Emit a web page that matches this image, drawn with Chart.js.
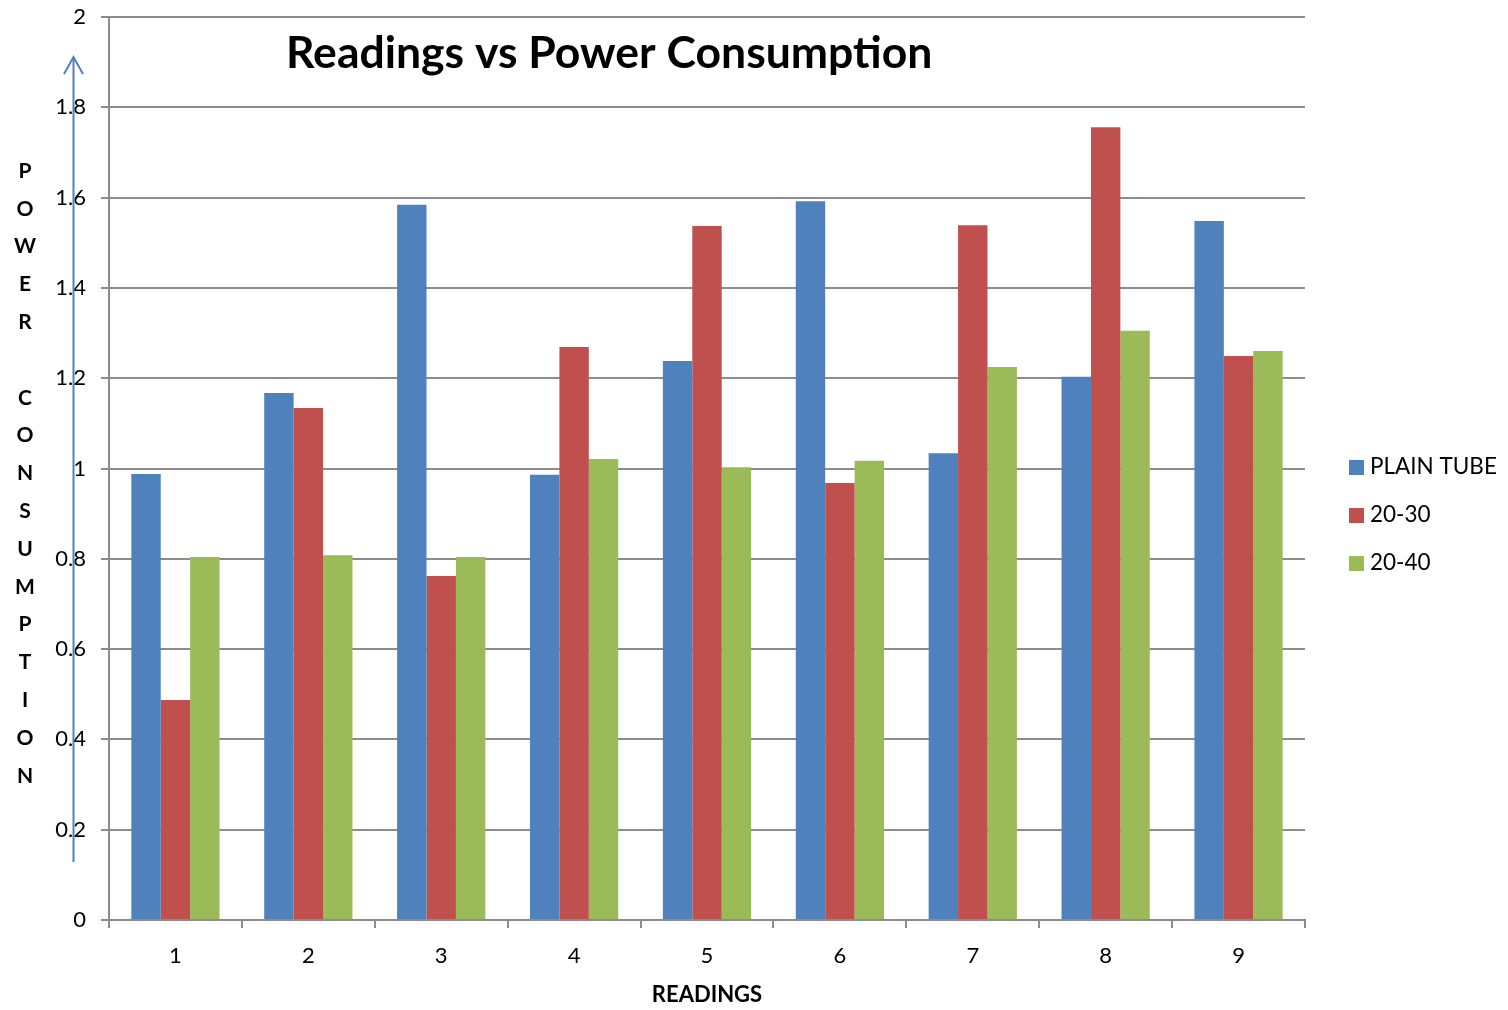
<!DOCTYPE html>
<html>
<head>
<meta charset="utf-8">
<title>Readings vs Power Consumption</title>
<script src="https://cdn.jsdelivr.net/npm/chart.js@4/dist/chart.umd.min.js"></script>
<style>
  html, body { margin: 0; padding: 0; background: #ffffff; }
  #wrap { width: 1508px; height: 1010px; position: relative; }
</style>
</head>
<body>
<div id="wrap"><canvas id="chart" width="1508" height="1010"></canvas></div>
<script>
// Readings 1..9 and the power drawn by each tube configuration
const categories = ['1', '2', '3', '4', '5', '6', '7', '8', '9'];
const plainTube = [0.988, 1.167, 1.584, 0.986, 1.238, 1.592, 1.034, 1.203, 1.548];
const tube2030  = [0.487, 1.134, 0.762, 1.269, 1.537, 0.968, 1.539, 1.756, 1.249];
const tube2040  = [0.804, 0.808, 0.804, 1.021, 1.003, 1.017, 1.225, 1.305, 1.260];
const seriesNames = ['PLAIN TUBE', '20-30', '20-40'];
const seriesColors = ['#4F81BD', '#C0504D', '#9BBB59'];
const chartTitle = 'Readings vs Power Consumption';
const yTitle = 'POWER CONSUMPTION';
const xTitle = 'READINGS';

const FONT = 'Lato, "Open Sans", "Liberation Sans", sans-serif';

// Title, stacked vertical axis label, arrow and legend
const decorations = {
  id: 'decorations',
  afterDraw(chart) {
    const ctx = chart.ctx;
    ctx.save();

    // chart title
    ctx.fillStyle = '#000';
    ctx.font = 'bold 44.5px ' + FONT;
    ctx.textAlign = 'left';
    ctx.textBaseline = 'alphabetic';
    ctx.fillText(chartTitle, 286, 68);

    // stacked letters of the value-axis title
    ctx.font = 'bold 21px ' + FONT;
    ctx.textAlign = 'center';
    ctx.textBaseline = 'middle';
    const letters = yTitle.split('');
    letters.forEach((ch, i) => {
      if (ch !== ' ') ctx.fillText(ch, 25, 171 + i * 37.8);
    });

    // upward arrow beside the value axis
    ctx.strokeStyle = '#4F81BD';
    ctx.lineWidth = 2;
    ctx.beginPath();
    ctx.moveTo(73.5, 862);
    ctx.lineTo(73.5, 57);
    ctx.stroke();
    ctx.beginPath();
    ctx.moveTo(64, 74);
    ctx.lineTo(73.5, 57);
    ctx.lineTo(83, 74);
    ctx.stroke();

    // legend
    ctx.font = '22.5px ' + FONT;
    ctx.textAlign = 'left';
    ctx.textBaseline = 'middle';
    chart.data.datasets.forEach((ds, i) => {
      const cy = 467 + i * 48;
      ctx.fillStyle = ds.backgroundColor;
      ctx.fillRect(1349, cy - 7, 15, 15);
      ctx.fillStyle = '#000';
      ctx.fillText(ds.label, 1370, cy);
    });

    ctx.restore();
  }
};

new Chart(document.getElementById('chart'), {
  type: 'bar',
  data: {
    labels: categories,
    datasets: [
      { label: seriesNames[0], data: plainTube, backgroundColor: seriesColors[0] },
      { label: seriesNames[1], data: tube2030,  backgroundColor: seriesColors[1] },
      { label: seriesNames[2], data: tube2040,  backgroundColor: seriesColors[2] }
    ]
  },
  options: {
    responsive: false,
    animation: false,
    devicePixelRatio: 1,
    layout: { padding: { top: 17, right: 203, bottom: 0, left: 0 } },
    datasets: {
      bar: { categoryPercentage: 0.664, barPercentage: 1.0, borderWidth: 0 }
    },
    plugins: {
      legend: { display: false },
      title: { display: false },
      tooltip: { enabled: false }
    },
    scales: {
      x: {
        grid: {
          offset: true,
          drawOnChartArea: false,
          drawTicks: true,
          tickLength: 8,
          color: '#8c8c8c',
          lineWidth: 2
        },
        border: { display: true, color: '#8c8c8c', width: 2 },
        ticks: { color: '#000', font: { family: FONT, size: 22 }, padding: 15 },
        title: {
          display: true,
          text: xTitle,
          color: '#000',
          font: { family: FONT, size: 22, weight: 'bold' },
          padding: { top: 0, bottom: 2 }
        },
        afterFit(scale) {
          scale.height = 90;
          scale.paddingLeft = 0;
          scale.paddingRight = 0;
        }
      },
      y: {
        min: 0,
        max: 2,
        ticks: {
          stepSize: 0.2,
          color: '#000',
          font: { family: FONT, size: 22 },
          padding: 15,
          callback: (v) => String(Math.round(v * 10) / 10)
        },
        grid: {
          color: '#8c8c8c',
          lineWidth: 2,
          tickLength: 8,
          drawTicks: true
        },
        border: { display: true, color: '#8c8c8c', width: 2 },
        afterFit(scale) {
          scale.width = 109;
          scale.paddingTop = 0;
          scale.paddingBottom = 0;
        }
      }
    }
  },
  plugins: [decorations]
});
</script>
</body>
</html>
